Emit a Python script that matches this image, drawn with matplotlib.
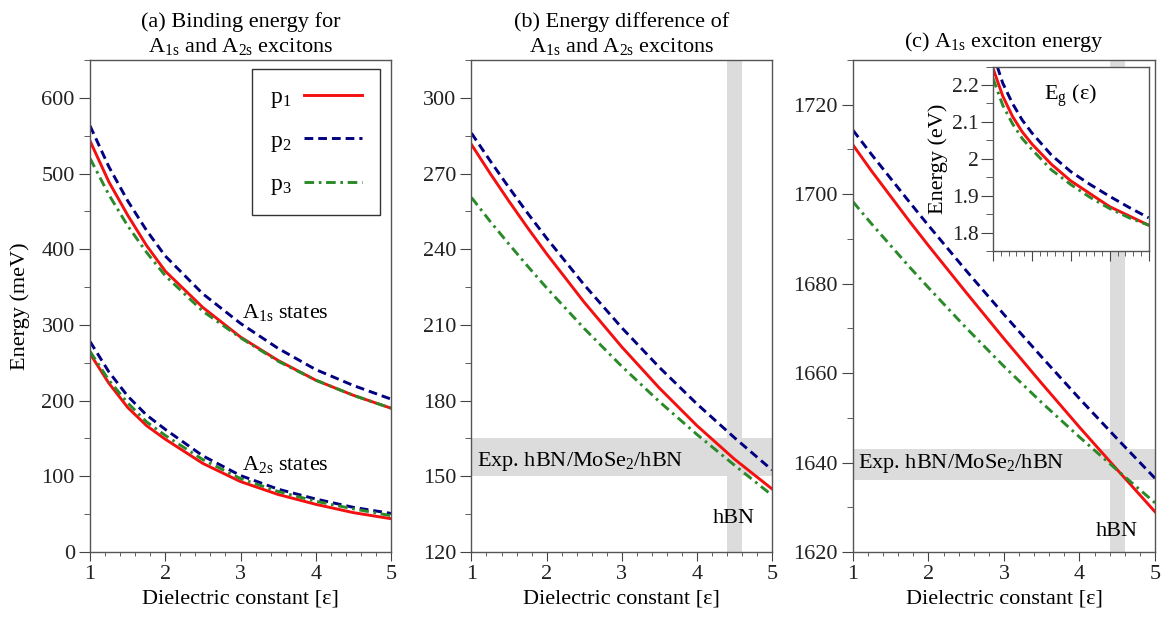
import matplotlib
matplotlib.use("Agg")
import matplotlib.pyplot as plt
from matplotlib.ticker import MultipleLocator, FormatStrFormatter

plt.rcParams['font.family'] = ['Liberation Serif', 'DejaVu Serif']
plt.rcParams['mathtext.fontset'] = 'custom'
plt.rcParams['mathtext.rm'] = 'Liberation Serif'
plt.rcParams['mathtext.it'] = 'Liberation Serif:italic'
plt.rcParams['mathtext.default'] = 'rm'

# dielectric constant grid (values at these points)
eps = [1, 1.25, 1.5, 1.75, 2, 2.5, 3, 3.5, 4, 4.5, 5]

# (a) binding energy, meV
a1s_p1 = [543, 489, 445, 405, 371, 323, 284, 253, 227, 207, 190]
a1s_p2 = [563, 509, 464, 425, 391, 341, 302, 269, 241, 220, 202]
a1s_p3 = [520, 472, 431, 396, 365, 318, 283, 252, 227, 207, 190]
a2s_p1 = [262, 223, 191, 167, 149, 117, 93, 76, 63, 52, 44]
a2s_p2 = [278, 238, 206, 181, 162, 127, 101, 83, 70, 59, 51]
a2s_p3 = [265, 227, 197, 172, 154, 122, 97, 80, 67, 57, 48]

# (b) A1s - A2s energy difference, meV
diff_p1 = [281.5, 270, 259, 248.4, 238.2, 219, 201.3, 185, 170.1, 156.8, 145]
diff_p2 = [286, 275, 264.4, 254.2, 244.4, 225.9, 208.9, 193.2, 178.7, 165.3, 152.5]
diff_p3 = [260.5, 251, 242, 233.2, 224.7, 208.6, 193.6, 179.6, 166.6, 154.4, 142.5]

# (c) A1s exciton energy, meV
ex_p1 = [1711, 1705.1, 1699.5, 1693.9, 1688.5, 1678, 1667.7, 1657.7, 1647.9, 1638.4, 1629]
ex_p2 = [1714.3, 1708.8, 1703.5, 1698.2, 1693, 1682.9, 1673.1, 1663.6, 1654.3, 1645.3, 1636.5]
ex_p3 = [1698.3, 1693.3, 1688.5, 1683.7, 1679.1, 1670.1, 1661.5, 1653.4, 1645.7, 1638.3, 1631]

# inset: band gap Eg(eps), eV
eg_p1 = [2.245, 2.17, 2.115, 2.073, 2.04, 1.985, 1.94, 1.905, 1.87, 1.845, 1.82]
eg_p2 = [2.285, 2.205, 2.15, 2.105, 2.07, 2.01, 1.965, 1.93, 1.898, 1.868, 1.84]
eg_p3 = [2.218, 2.145, 2.095, 2.055, 2.025, 1.97, 1.93, 1.895, 1.865, 1.84, 1.82]

# experimental window and hBN dielectric constant
exp_diff = (150, 165)
exp_a1s = (1636, 1643)
hbn_eps = (4.4, 4.6)

red = '#f41010'
navy = '#000080'
green = '#2a8a2a'
band = '#dcdcdc'


def draw(ax, p1, p2, p3, lw=2.1, labels=False):
    ax.plot(eps, p1, color=red, lw=lw, ls='-', label='p$_1$' if labels else None)
    ax.plot(eps, p2, color=navy, lw=lw, ls=(0, (3.0, 1.7)), label='p$_2$' if labels else None)
    ax.plot(eps, p3, color=green, lw=lw, ls=(0, (3.3, 1.6, 0.9, 1.6)), label='p$_3$' if labels else None)


def style(ax, ylo, yhi, major, minor):
    ax.set_xlim(1, 5)
    ax.set_ylim(ylo, yhi)
    ax.xaxis.set_major_locator(MultipleLocator(1))
    ax.xaxis.set_minor_locator(MultipleLocator(0.2))
    ax.yaxis.set_major_locator(MultipleLocator(major))
    ax.yaxis.set_minor_locator(MultipleLocator(minor))
    ax.tick_params(which='both', direction='out', top=False, right=False,
                   color='#444444', labelcolor='#222222', labelsize=16)
    ax.tick_params(axis='x', which='major', length=6.5, pad=3)
    ax.tick_params(axis='x', which='minor', length=3)
    ax.tick_params(axis='y', which='major', length=8, pad=3)
    ax.tick_params(axis='y', which='minor', length=4)
    for s in ax.spines.values():
        s.set_color('#555555')
        s.set_linewidth(1.0)
    ax.set_xlabel('Dielectric constant [ε]', fontsize=16, labelpad=4)


fig = plt.figure(figsize=(11.71, 6.25), dpi=100)
ax1 = fig.add_axes([0.0769, 0.1168, 0.2570, 0.7872])
ax2 = fig.add_axes([0.4026, 0.1168, 0.2567, 0.7872])
ax3 = fig.add_axes([0.7284, 0.1168, 0.2579, 0.7872])

# (a)
draw(ax1, a1s_p1, a1s_p2, a1s_p3, labels=True)
draw(ax1, a2s_p1, a2s_p2, a2s_p3)
style(ax1, 0, 650, 100, 50)
ax1.set_ylabel('Energy (meV)', fontsize=16, labelpad=8)
ax1.set_title('(a) Binding energy for\nA$_{1s}$ and A$_{2s}$ excitons', fontsize=16, pad=6, linespacing=1.25)
ax1.text(3.02, 309, 'A$_{1s}$ states', fontsize=16, va='baseline')
ax1.text(3.02, 108, 'A$_{2s}$ states', fontsize=16, va='baseline')
leg = ax1.legend(loc='upper right', bbox_to_anchor=(0.963, 0.982), borderaxespad=0,
                 markerfirst=False, fontsize=17, handlelength=2.45, handletextpad=0.55,
                 borderpad=0.75, labelspacing=0.85, fancybox=False, framealpha=1)
leg.get_frame().set_edgecolor('#333333')
leg.get_frame().set_linewidth(1.0)

# (b)
ax2.axhspan(exp_diff[0], exp_diff[1], color=band, lw=0, zorder=0)
ax2.axvspan(hbn_eps[0], hbn_eps[1], color=band, lw=0, zorder=0)
draw(ax2, diff_p1, diff_p2, diff_p3)
style(ax2, 120, 315, 30, 15)
ax2.set_title('(b) Energy difference of\nA$_{1s}$ and A$_{2s}$ excitons', fontsize=16, pad=6, linespacing=1.25)
ax2.text(1.07, 154, 'Exp. hBN/MoSe$_2$/hBN', fontsize=16, va='baseline')
ax2.text(4.49, 131.3, 'hBN', fontsize=16, va='baseline', ha='center')

# (c)
ax3.axhspan(exp_a1s[0], exp_a1s[1], color=band, lw=0, zorder=0)
ax3.axvspan(hbn_eps[0], hbn_eps[1], color=band, lw=0, zorder=0)
draw(ax3, ex_p1, ex_p2, ex_p3)
style(ax3, 1620, 1730, 20, 10)
ax3.set_title('(c) A$_{1s}$ exciton energy', fontsize=16, pad=9)
ax3.text(1.07, 1638.7, 'Exp. hBN/MoSe$_2$/hBN', fontsize=16, va='baseline')
ax3.text(4.5, 1623.5, 'hBN', fontsize=16, va='baseline', ha='center')

# inset with the band gap
axi = fig.add_axes([0.8480, 0.5984, 0.1329, 0.2952])
axi.set_facecolor('white')
draw(axi, eg_p1, eg_p2, eg_p3)
axi.set_xlim(1, 5)
axi.set_ylim(1.75, 2.25)
axi.xaxis.set_major_locator(MultipleLocator(1))
axi.xaxis.set_minor_locator(MultipleLocator(0.2))
axi.yaxis.set_major_locator(MultipleLocator(0.1))
axi.yaxis.set_minor_locator(MultipleLocator(0.05))
axi.yaxis.set_major_formatter(FormatStrFormatter('%g'))
axi.tick_params(which='both', direction='out', top=False, right=False,
                color='#444444', labelcolor='#222222', labelsize=15.5)
axi.tick_params(axis='x', which='both', labelbottom=False)
axi.tick_params(axis='x', which='major', length=7)
axi.tick_params(axis='x', which='minor', length=3.5)
axi.tick_params(axis='y', which='major', length=8.5, pad=2)
axi.tick_params(axis='y', which='minor', length=5)
for s in axi.spines.values():
    s.set_color('#555555')
    s.set_linewidth(1.0)
axi.set_ylabel('Energy (eV)', fontsize=16, labelpad=3)
axi.text(3.0, 2.16, 'E$_g$ (ε)', fontsize=16, va='baseline', ha='center')

fig.savefig('out.png', dpi=100)
